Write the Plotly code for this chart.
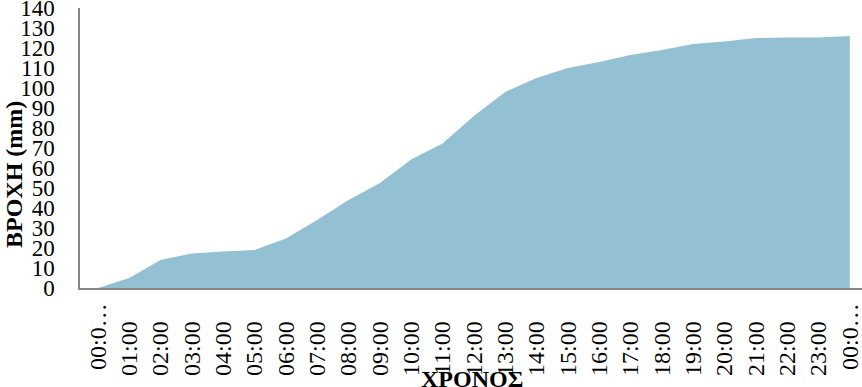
import plotly.graph_objects as go

categories = ["00:0…", "01:00", "02:00", "03:00", "04:00", "05:00", "06:00", "07:00",
              "08:00", "09:00", "10:00", "11:00", "12:00", "13:00", "14:00", "15:00",
              "16:00", "17:00", "18:00", "19:00", "20:00", "21:00", "22:00", "23:00", "00:0…"]
rain = [0, 5, 14, 17.3, 18.2, 19, 24.8, 34, 44, 52.5, 64.3, 72.3, 86, 98, 105, 110,
        113, 116.5, 119, 122, 123.3, 125, 125.2, 125.3, 126]
y_ticks = list(range(0, 141, 10))

serif = "Liberation Serif, Times New Roman, serif"

# full labels sit a bit lower than the truncated ones (as in the original)
tick_text = [c if c.endswith("…") else c + "\u2002\u00a0" for c in categories]

fig = go.Figure()
fig.add_trace(go.Scatter(
    x=list(range(len(categories))), y=rain,
    mode="lines", fill="tozeroy",
    line=dict(width=0, color="#93C1D3"),
    fillcolor="#93C1D3",
    hoverinfo="skip", showlegend=False,
))

fig.update_layout(
    width=862, height=387,
    margin=dict(l=80, r=0, t=8, b=99),
    paper_bgcolor="white", plot_bgcolor="white",
    font=dict(family=serif, color="black", size=23),
    xaxis=dict(
        tickmode="array", tickvals=list(range(len(categories))), ticktext=tick_text,
        range=[-0.57, 24.39], tickangle=-90, showgrid=False, zeroline=False,
        showline=True, linecolor="#868686", linewidth=1.5, ticks="",
        automargin=False, ticklabelstandoff=4, ticklabeloverflow="allow",
        tickfont=dict(family=serif, size=24, color="black"),
    ),
    yaxis=dict(
        range=[0, 140], tickvals=y_ticks, showgrid=False, zeroline=False,
        showline=True, linecolor="#868686", linewidth=1.5, ticks="",
        automargin=False, ticklabelstandoff=19, ticklabeloverflow="allow",
        tickfont=dict(family=serif, size=23, color="black"),
    ),
    annotations=[
        dict(text="<b>ΒΡΟΧΗ (mm)</b>", textangle=-90, xref="paper", yref="paper",
             x=(14-80)/782, y=(288-175)/280, xanchor="center", yanchor="middle",
             showarrow=False, font=dict(family=serif, size=24, color="black")),
        dict(text="<b>ΧΡΟΝΟΣ</b>", xref="paper", yref="paper",
             x=(472-80)/782, y=-(379-288)/280, xanchor="center", yanchor="middle",
             showarrow=False, font=dict(family=serif, size=24, color="black")),
    ],
)

fig.write_html("out.html", config={"displayModeBar": False},
               post_script="document.body.style.margin='0';document.body.style.overflow='hidden';")
